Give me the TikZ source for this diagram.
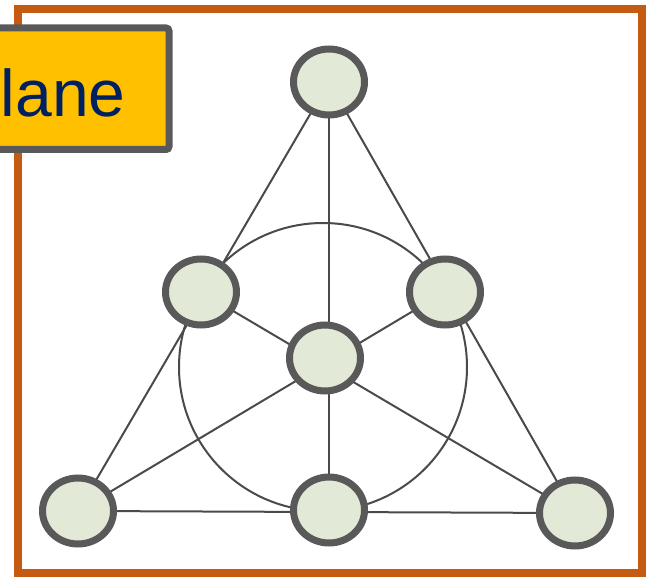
\documentclass[tikz,border=0pt]{standalone}
\usepackage{fontspec}
\setmainfont{Liberation Sans}
\usetikzlibrary{shapes.geometric}
\definecolor{frameorange}{HTML}{C55A11}
\definecolor{nodefill}{HTML}{E2E9D6}
\definecolor{nodeedge}{HTML}{595959}
\definecolor{linegray}{HTML}{4A4A4A}
\definecolor{labelfill}{HTML}{FFC000}
\definecolor{labeltext}{HTML}{002060}
\tikzset{
  point/.style={ellipse, draw=nodeedge, fill=nodefill, line width=7pt,
    minimum width=71pt, minimum height=66pt, inner sep=0pt},
  fanoline/.style={draw=linegray, line width=2pt},
  labelbox/.style={draw=nodeedge, fill=labelfill, line width=7pt, rounded corners=3pt}
}
\begin{document}
\begin{tikzpicture}[x=1pt,y=-1pt]
\useasboundingbox (0,0) rectangle (654,577);
\clip (0,0) rectangle (654,577);
\draw[frameorange, line width=8pt] (18,9) rectangle (642,573);
% points
\coordinate (top) at (329,82);
\coordinate (left) at (201,292);
\coordinate (right) at (445,292);
\coordinate (cen) at (325,358);
\coordinate (bl) at (78,511);
\coordinate (bm) at (329,510);
\coordinate (br) at (575,513);
% lines
\draw[fanoline] (bl) -- (top) -- (br) -- (bl);
\draw[fanoline] (top) -- (bm);
\draw[fanoline] (left) -- (br);
\draw[fanoline] (right) -- (bl);
\draw[fanoline] (323,367) circle[radius=144pt];
% nodes
\node[point] (ntop) at (top) {};
\node[point] (nleft) at (left) {};
\node[point] (nright) at (right) {};
\node[point] (ncen) at (cen) {};
\node[point] (nbl) at (bl) {};
\node[point] (nbm) at (bm) {};
\node[point] (nbr) at (br) {};
% label
\draw[labelbox] (-12,28) rectangle (169,149.5);
\node[anchor=base west, inner sep=0pt, text=labeltext, font=\fontsize{66}{66}\selectfont] (lbl) at (0.5,117) {lane};
\end{tikzpicture}
\end{document}
